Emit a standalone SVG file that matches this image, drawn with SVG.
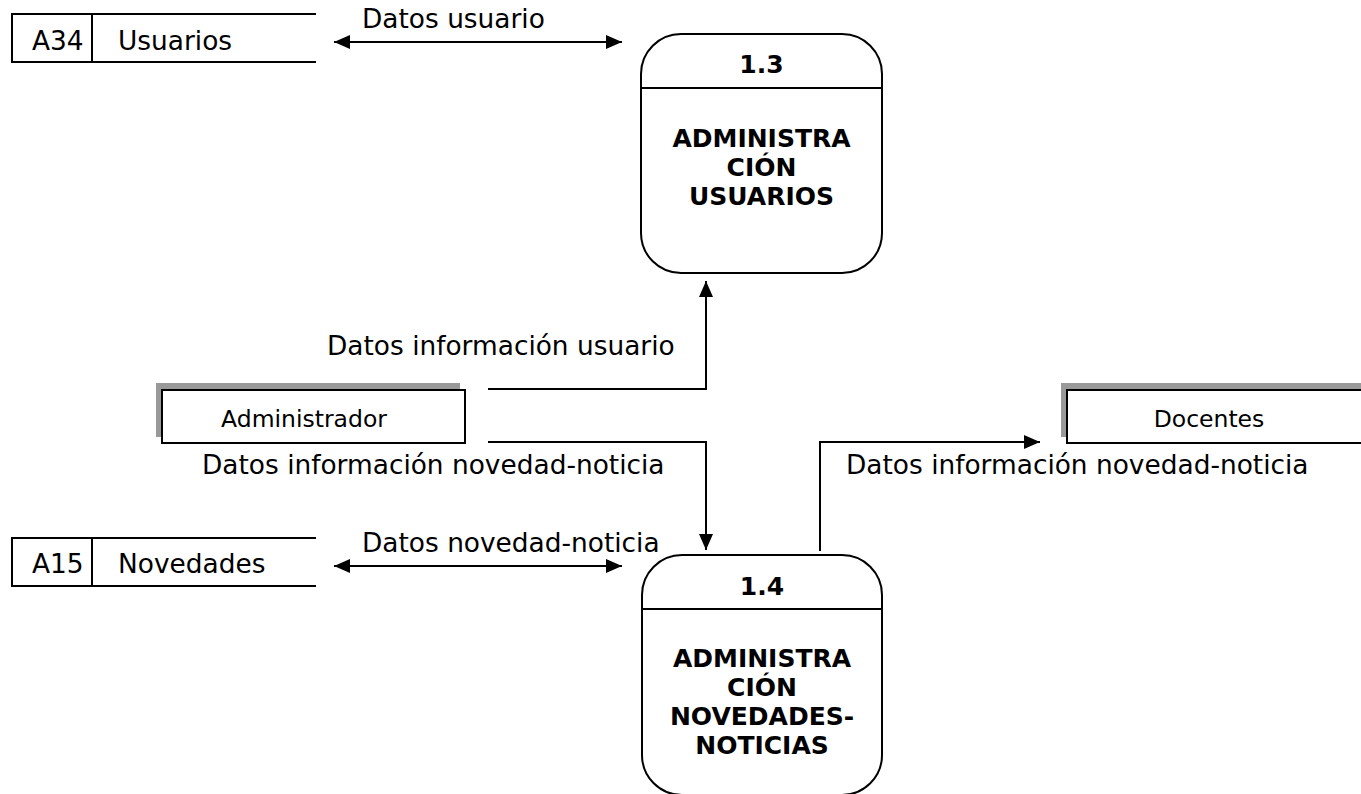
<svg xmlns="http://www.w3.org/2000/svg" width="1361" height="794" viewBox="0 0 1361 794">
<style>
text{font-family:"DejaVu Sans","Verdana",sans-serif;fill:#000}
.lbl{font-size:26.4px}
.ent{font-size:23.5px}
.bold{font-size:25px;font-weight:bold}
.ln{stroke:#000;stroke-width:2;fill:none}
.shadow{fill:#999}
</style>
<defs>
<marker id="ah" viewBox="0 0 16 14" refX="16" refY="7" markerWidth="16" markerHeight="14" markerUnits="userSpaceOnUse" orient="auto-start-reverse">
<path d="M0,0 L16,7 L0,14 Z" fill="#000"/>
</marker>
</defs>
<rect width="1361" height="794" fill="#fff"/>

<g id="store-usuarios">
<path class="ln" d="M316,14 H12 V62 H316 M92,14 V62"/>
<text class="lbl" x="32" y="50">A34</text>
<text class="lbl" x="118" y="50">Usuarios</text>
</g>

<g id="store-novedades">
<path class="ln" d="M316,538 H12 V586 H316 M92,538 V586"/>
<text class="lbl" x="32" y="573">A15</text>
<text class="lbl" x="118" y="573">Novedades</text>
</g>

<g id="process-1-3">
<rect class="ln" x="641" y="34" width="241" height="239" rx="40" ry="40"/>
<line class="ln" x1="641" y1="88" x2="882" y2="88"/>
<text class="bold" x="761.5" y="73" text-anchor="middle">1.3</text>
<text class="bold" x="761.5" y="147" text-anchor="middle">ADMINISTRA</text>
<text class="bold" x="761.5" y="176" text-anchor="middle">CIÓN</text>
<text class="bold" x="761.5" y="205" text-anchor="middle">USUARIOS</text>
</g>

<g id="process-1-4">
<rect class="ln" x="642" y="555" width="240" height="240" rx="40" ry="40"/>
<line class="ln" x1="642" y1="609" x2="882" y2="609"/>
<text class="bold" x="762" y="595" text-anchor="middle">1.4</text>
<text class="bold" x="762" y="667" text-anchor="middle">ADMINISTRA</text>
<text class="bold" x="762" y="696" text-anchor="middle">CIÓN</text>
<text class="bold" x="762" y="725" text-anchor="middle">NOVEDADES-</text>
<text class="bold" x="762" y="754" text-anchor="middle">NOTICIAS</text>
</g>

<g id="entity-administrador">
<rect class="shadow" x="156" y="383" width="304" height="54"/>
<rect x="162" y="390" width="303" height="53" fill="#fff" stroke="#000" stroke-width="2"/>
<text class="ent" x="304" y="427" text-anchor="middle">Administrador</text>
</g>

<g id="entity-docentes">
<rect class="shadow" x="1061" y="383" width="310" height="54"/>
<rect x="1067" y="390" width="310" height="53" fill="#fff" stroke="#000" stroke-width="2"/>
<text class="ent" x="1209" y="427" text-anchor="middle">Docentes</text>
</g>

<g id="connectors">
<line class="ln" x1="334" y1="42" x2="622" y2="42" marker-start="url(#ah)" marker-end="url(#ah)"/>
<line class="ln" x1="334" y1="566" x2="622" y2="566" marker-start="url(#ah)" marker-end="url(#ah)"/>
<polyline class="ln" points="488,389 706,389 706,281" marker-end="url(#ah)"/>
<polyline class="ln" points="488,442 706,442 706,550" marker-end="url(#ah)"/>
<polyline class="ln" points="820,551 820,442 1040,442" marker-end="url(#ah)"/>
</g>

<g id="labels">
<text class="lbl" x="362" y="28">Datos usuario</text>
<text class="lbl" x="327" y="355">Datos información usuario</text>
<text class="lbl" x="202" y="474">Datos información novedad-noticia</text>
<text class="lbl" x="846" y="474">Datos información novedad-noticia</text>
<text class="lbl" x="362" y="552">Datos novedad-noticia</text>
</g>
</svg>
